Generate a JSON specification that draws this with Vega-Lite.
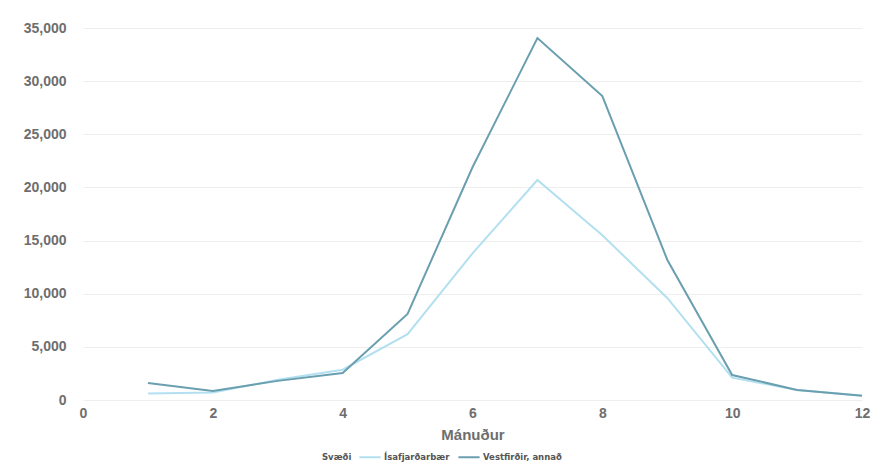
{
  "$schema": "https://vega.github.io/schema/vega-lite/v6.json",
  "autosize": "none",
  "width": 779,
  "height": 372,
  "padding": {"left": 83, "top": 28, "right": 12, "bottom": 70},
  "background": "white",
  "config": {
    "view": {"stroke": null},
    "font": "Liberation Sans"
  },
  "data": {
    "values": [
      {"m": 1, "s": "Ísafjarðarbær", "v": 600},
      {"m": 2, "s": "Ísafjarðarbær", "v": 700},
      {"m": 3, "s": "Ísafjarðarbær", "v": 1900},
      {"m": 4, "s": "Ísafjarðarbær", "v": 2850},
      {"m": 5, "s": "Ísafjarðarbær", "v": 6200},
      {"m": 6, "s": "Ísafjarðarbær", "v": 13800},
      {"m": 7, "s": "Ísafjarðarbær", "v": 20700},
      {"m": 8, "s": "Ísafjarðarbær", "v": 15500},
      {"m": 9, "s": "Ísafjarðarbær", "v": 9600},
      {"m": 10, "s": "Ísafjarðarbær", "v": 2100},
      {"m": 11, "s": "Ísafjarðarbær", "v": 950},
      {"m": 12, "s": "Ísafjarðarbær", "v": 420},
      {"m": 1, "s": "Vestfirðir, annað", "v": 1600},
      {"m": 2, "s": "Vestfirðir, annað", "v": 850},
      {"m": 3, "s": "Vestfirðir, annað", "v": 1800},
      {"m": 4, "s": "Vestfirðir, annað", "v": 2540},
      {"m": 5, "s": "Vestfirðir, annað", "v": 8100},
      {"m": 6, "s": "Vestfirðir, annað", "v": 21900},
      {"m": 7, "s": "Vestfirðir, annað", "v": 34050},
      {"m": 8, "s": "Vestfirðir, annað", "v": 28600},
      {"m": 9, "s": "Vestfirðir, annað", "v": 13200},
      {"m": 10, "s": "Vestfirðir, annað", "v": 2350},
      {"m": 11, "s": "Vestfirðir, annað", "v": 950},
      {"m": 12, "s": "Vestfirðir, annað", "v": 400}
    ]
  },
  "mark": {"type": "line", "strokeWidth": 2},
  "encoding": {
    "x": {
      "field": "m",
      "type": "quantitative",
      "scale": {"domain": [0, 12], "nice": false},
      "axis": {
        "title": "Mánuður",
        "values": [0, 2, 4, 6, 8, 10, 12],
        "grid": false,
        "domain": false,
        "ticks": false,
        "labelFont": "Liberation Sans",
        "labelFontWeight": "bold",
        "labelFontSize": 14,
        "labelColor": "#6e6e6e",
        "labelPadding": 6,
        "labelFlush": false,
        "titleFont": "Liberation Sans",
        "titleFontWeight": "bold",
        "titleFontSize": 15,
        "titleColor": "#6e6e6e",
        "titlePadding": 7
      }
    },
    "y": {
      "field": "v",
      "type": "quantitative",
      "scale": {"domain": [0, 35000], "nice": false},
      "axis": {
        "title": null,
        "values": [0, 5000, 10000, 15000, 20000, 25000, 30000, 35000],
        "format": ",.0f",
        "domain": false,
        "ticks": false,
        "gridColor": "#eeeeee",
        "gridWidth": 1,
        "labelFont": "Liberation Sans",
        "labelFontWeight": "bold",
        "labelFontSize": 14,
        "labelColor": "#6e6e6e",
        "labelPadding": 17
      }
    },
    "color": {
      "field": "s",
      "type": "nominal",
      "scale": {
        "domain": ["Ísafjarðarbær", "Vestfirðir, annað"],
        "range": ["#b3e0f0", "#6a9fb0"]
      },
      "legend": {
        "title": "Svæði",
        "orient": "none",
        "legendX": 239,
        "legendY": 417,
        "direction": "horizontal",
        "titleOrient": "left",
        "titleBaseline": "top",
        "titleAnchor": "middle",
        "titleFont": "DejaVu Sans",
        "titleFontSize": 8.5,
        "titleFontWeight": "bold",
        "titleColor": "#555555",
        "titlePadding": 6,
        "labelFont": "DejaVu Sans",
        "labelFontSize": 8.5,
        "labelFontWeight": "bold",
        "labelColor": "#555555",
        "symbolType": "stroke",
        "symbolSize": 450,
        "symbolStrokeWidth": 2,
        "columnPadding": 4,
        "labelOffset": 2
      }
    }
  }
}
